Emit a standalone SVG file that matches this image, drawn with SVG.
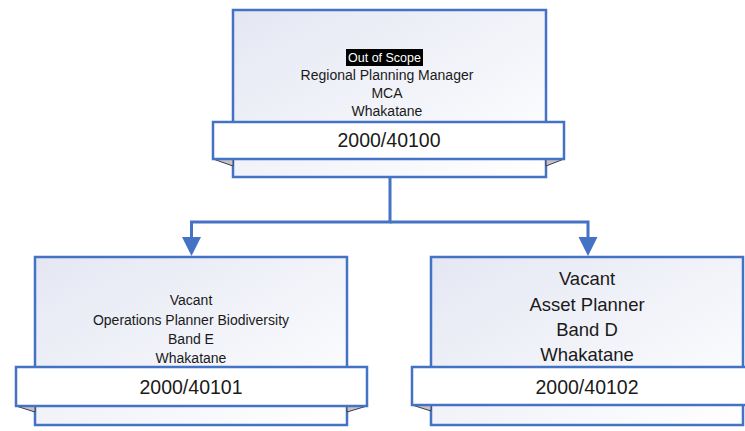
<svg xmlns="http://www.w3.org/2000/svg" width="745" height="431" viewBox="0 0 745 431">
<defs>
<linearGradient id="g" x1="0" y1="0" x2="1" y2="1">
<stop offset="0" stop-color="#e4e7f3"/>
<stop offset="1" stop-color="#ffffff"/>
</linearGradient>
<marker id="ah" markerWidth="6" markerHeight="6" refX="3" refY="3" orient="auto" markerUnits="userSpaceOnUse" viewBox="0 0 6 6">
<path d="M0,0 L6,3 L0,6 z" fill="#4472c4"/>
</marker>
<style>
.box{fill:url(#g);stroke:#4472c4;stroke-width:2.5}
.band{fill:#ffffff;stroke:#4472c4;stroke-width:2.5}
.fold{fill:#c4c4c8;stroke:#3a3a4a;stroke-width:1}
.t{font-family:"Liberation Sans",Arial,sans-serif;fill:#1a1a1a;text-anchor:middle}
.s{font-size:14px}
.l{font-size:18.5px}
.n{font-size:19.5px}
.conn{fill:none;stroke:#4472c4;stroke-width:3}
.head{fill:#4472c4}
</style>
</defs>
<g id="connectors">
<path class="conn" d="M390,177 V222 H191.5 V240"/>
<path class="conn" d="M390,222 H588 V240"/>
<path class="head" d="M182,237 L201,237 L191.5,256 z"/>
<path class="head" d="M578.5,237 L597.5,237 L588,256 z"/>
</g>
<g id="node-40100">
<rect class="box" x="233" y="10" width="313" height="167"/>
<path class="fold" d="M213,159 L233,159 L233,166 z"/>
<path class="fold" d="M564,159 L546,159 L546,166 z"/>
<rect class="band" x="213" y="122" width="351" height="37"/>
<rect x="346" y="49" width="77" height="17" fill="#000000"/>
<text class="t" x="384.5" y="61.5" font-size="12.5" fill="#ffffff" style="fill:#ffffff">Out of Scope</text>
<text class="t s" x="387" y="79.5">Regional Planning Manager</text>
<text class="t s" x="387" y="97.5">MCA</text>
<text class="t s" x="387" y="115.5">Whakatane</text>
<text class="t n" x="389" y="147">2000/40100</text>
</g>
<g id="node-40101">
<rect class="box" x="35" y="257" width="312" height="168"/>
<path class="fold" d="M16,406 L35,406 L35,412 z"/>
<path class="fold" d="M367,406 L347,406 L347,412 z"/>
<rect class="band" x="16" y="367" width="351" height="39"/>
<text class="t s" x="191" y="305">Vacant</text>
<text class="t s" x="191" y="325">Operations Planner Biodiversity</text>
<text class="t s" x="191" y="344">Band E</text>
<text class="t s" x="191" y="363">Whakatane</text>
<text class="t n" x="191" y="394">2000/40101</text>
</g>
<g id="node-40102">
<rect class="box" x="431" y="257" width="312" height="168"/>
<path class="fold" d="M412,405 L431,405 L431,411 z"/>
<rect class="band" x="412" y="367" width="350" height="38"/>
<text class="t l" x="587" y="284.5">Vacant</text>
<text class="t l" x="587" y="310.5">Asset Planner</text>
<text class="t l" x="587" y="335.5">Band D</text>
<text class="t l" x="587" y="360.5">Whakatane</text>
<text class="t n" x="587" y="394">2000/40102</text>
</g>
</svg>
